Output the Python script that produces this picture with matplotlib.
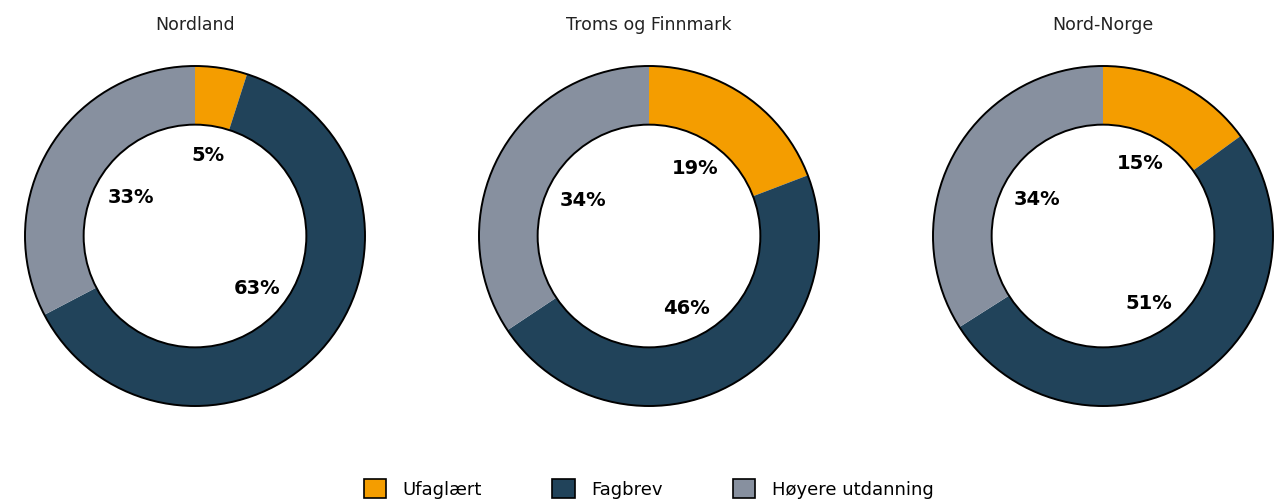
import numpy as np
import matplotlib.pyplot as plt
from matplotlib.patches import Circle, Patch

regions = ["Nordland", "Troms og Finnmark", "Nord-Norge"]
categories = ["Ufaglært", "Fagbrev", "Høyere utdanning"]
ufaglaert = [5, 19, 15]
fagbrev = [63, 46, 51]
hoyere = [33, 34, 34]
colors = ["#F49D00", "#21435A", "#87909F"]

W, H = 1281, 499
centers_x = [195, 649, 1103]
center_y = 236
r_px = 170
hole = 0.655
label_dist = [0.48, 0.48, 0.44]

fig = plt.figure(figsize=(W / 100, H / 100), dpi=100)

for i, name in enumerate(regions):
    vals = [ufaglaert[i], fagbrev[i], hoyere[i]]
    pad = 1.02
    ax = fig.add_axes([(centers_x[i] - r_px * pad) / W, (H - center_y - r_px * pad) / H,
                       2 * r_px * pad / W, 2 * r_px * pad / H])
    wedges, _ = ax.pie(vals, colors=colors, startangle=90, counterclock=False,
                       radius=1, wedgeprops=dict(width=1 - hole, linewidth=0))
    ax.add_patch(Circle((0, 0), 1, fill=False, ec="black", lw=1.4))
    ax.add_patch(Circle((0, 0), hole, fill=False, ec="black", lw=1.4))
    for w, v, d in zip(wedges, vals, label_dist):
        ang = np.deg2rad((w.theta1 + w.theta2) / 2)
        ax.text(d * np.cos(ang), d * np.sin(ang), f"{v}%", ha="center", va="center",
                fontsize=14, fontweight="heavy", color="black")
    ax.set_xlim(-pad, pad)
    ax.set_ylim(-pad, pad)
    ax.set_aspect("equal")
    ax.axis("off")
    fig.text(centers_x[i] / W, 1 - 25 / H, name, ha="center", va="center",
             fontsize=12.5, color="#222222")

handles = [Patch(facecolor=c, edgecolor="black", linewidth=1.2) for c in colors]
fig.legend(handles, categories, loc="center", bbox_to_anchor=(0.5 + 8 / W, 1 - 489 / H),
           ncol=3, frameon=False, fontsize=13, handlelength=1.25, handleheight=1.25,
           handletextpad=0.9, columnspacing=3.9)

fig.savefig("out.png", dpi=100)
